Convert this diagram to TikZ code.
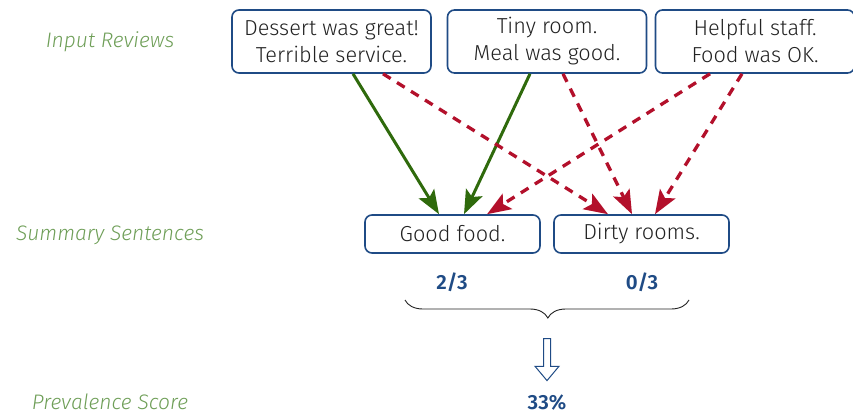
\documentclass[tikz,border=0pt]{standalone}
\usepackage{fontspec}
\setmainfont{Fira Sans}[UprightFont=* Light, ItalicFont=* Light Italic, BoldFont=* SemiBold]
\usetikzlibrary{arrows.meta,shapes.arrows,decorations.pathreplacing}
\definecolor{navy}{HTML}{1F4B85}
\definecolor{leaf}{HTML}{2F6A0C}
\definecolor{wine}{HTML}{B3102B}
\definecolor{sage}{HTML}{6E9E57}
\definecolor{ink}{HTML}{222222}
\tikzset{
  review/.style={draw=navy, line width=1.6pt, rounded corners=7pt, minimum width=199pt, minimum height=63pt, align=center, text=ink, font=\fontsize{21.7}{27}\selectfont},
  sentence/.style={draw=navy, line width=1.6pt, rounded corners=7pt, minimum width=175pt, minimum height=38pt, text=ink, font=\fontsize{21.7}{24}\selectfont},
  rowlabel/.style={text=sage, font=\itshape\fontsize{21}{24}\selectfont},
  score/.style={text=navy, font=\bfseries\fontsize{20.5}{24}\selectfont},
  linkhead/.style={-{Stealth[length=24pt,width=18pt,inset=5pt]}},
  support/.style={leaf, line width=3pt, linkhead},
  nosupport/.style={wine, line width=3.3pt, dash pattern=on 9pt off 7.5pt, linkhead},
}
\begin{document}
\begin{tikzpicture}[x=1pt,y=-1pt]
\useasboundingbox (0,0) rectangle (853,414);
% row labels
\node[rowlabel] (lin) at (110,42) {Input Reviews};
\node[rowlabel] (lsum) at (110,235) {Summary Sentences};
\node[rowlabel] (lprev) at (110,402) {Prevalence Score};
% input reviews
\node[review] (r1) at (331.5,41.5) {Dessert was great!\\Terrible service.};
\node[review] (r2) at (547,41.5) {Tiny room.\\Meal was good.};
\node[review] (r3) at (755,41.5) {Helpful staff.\\Food was OK.};
% summary sentences
\node[sentence] (good) at (452.5,234) {Good food.};
\node[sentence] (dirty) at (641.5,234) {Dirty rooms.};
% support links
\draw[support] ([xshift=21.5pt]r1.south) -- ([xshift=-13.5pt]good.north);
\draw[support] ([xshift=-17pt]r2.south) -- ([xshift=11.5pt]good.north);
\draw[nosupport] ([xshift=51.5pt]r1.south) -- ([xshift=-33.5pt]dirty.north);
\draw[nosupport] ([xshift=16pt]r2.south) -- ([xshift=-9.5pt]dirty.north);
\draw[nosupport] ([xshift=-45pt]r3.south) -- ([xshift=34.5pt]good.north);
\draw[nosupport] ([xshift=-13pt]r3.south) -- ([xshift=13.5pt]dirty.north);
% per-sentence scores
\node[score] (s1) at (452,282) {2/3};
\node[score] (s2) at (642,282) {0/3};
\coordinate (bl) at (405,300);
\coordinate (br) at (689,300);
\draw[ink, line width=0.9pt, decorate, decoration={brace, mirror, amplitude=18pt, aspect=0.503}] (bl) -- (br);
% aggregation arrow and final score
\node[single arrow, draw=navy, line width=1pt, fill=white, shape border rotate=270, minimum width=23pt, single arrow head extend=8.5pt, single arrow tip angle=80, minimum height=42pt, inner sep=3pt] (agg) at (547,357.5) {};
\node[score] (total) at (547,403) {33\%};
\end{tikzpicture}
\end{document}
